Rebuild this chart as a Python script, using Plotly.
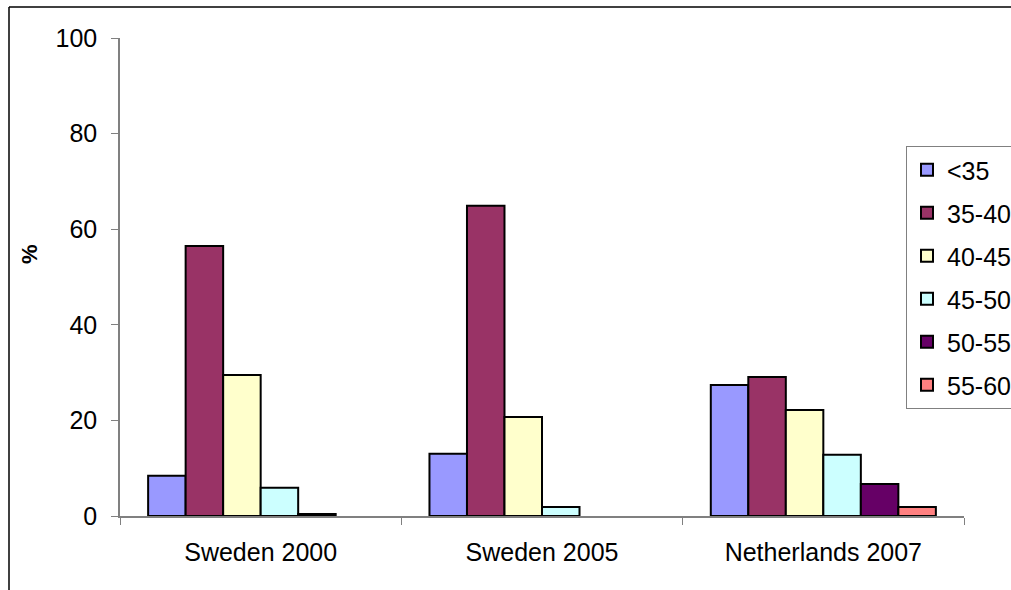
import plotly.graph_objects as go

# Share of respondents by age band, per survey (None = band not reported)
categories = ["Sweden 2000", "Sweden 2005", "Netherlands 2007"]
age_bands = ["<35", "35-40", "40-45", "45-50", "50-55", "55-60"]
band_lt35 = [8.4, 13.0, 27.4]
band_35_40 = [56.5, 64.9, 29.1]
band_40_45 = [29.5, 20.7, 22.2]
band_45_50 = [5.9, 1.9, 12.8]
band_50_55 = [0.4, None, 6.7]
band_55_60 = [None, None, 1.9]
y_ticks = [0, 20, 40, 60, 80, 100]

series = [band_lt35, band_35_40, band_40_45, band_45_50, band_50_55, band_55_60]
colors = ["#9999FF", "#993366", "#FFFFCC", "#CCFFFF", "#660066", "#FF8080"]

W, H = 1011, 590
L, R, T, B = 120, 47, 38, 74
pw, ph = W - L - R, H - T - B

def px_x(p):
    return (p - L) / pw

def px_y(p):
    return (H - B - p) / ph

font = dict(family="Liberation Sans, Arial, sans-serif", size=25, color="#000000")

fig = go.Figure()
for i, (name, vals) in enumerate(zip(age_bands, series)):
    fig.add_trace(go.Bar(
        x=categories, y=vals, name=name,
        legendgroup=name,
        marker=dict(color=colors[i], line=dict(color="#000000", width=2)),
    ))

fig.update_layout(
    width=W, height=H,
    margin=dict(l=L, r=R, t=T, b=B, autoexpand=False),
    paper_bgcolor="white", plot_bgcolor="white",
    barmode="group", bargap=0.2, bargroupgap=0,
    font=font,
    showlegend=True,
    legend=dict(
        x=px_x(906), y=px_y(146), xanchor="left", yanchor="top",
        bgcolor="white", bordercolor="#808080", borderwidth=1,
        font=dict(size=25), traceorder="grouped", tracegroupgap=7.5,
        itemwidth=30,
    ),
    xaxis=dict(
        showline=True, linecolor="#808080", linewidth=1.5,
        ticks="outside", ticklen=7, tickcolor="#808080", tickwidth=1,
        tickson="boundaries", showgrid=False,
        ticklabelstandoff=13,
    ),
    yaxis=dict(
        range=[0, 100], tickvals=y_ticks,
        showline=True, linecolor="#808080", linewidth=1.5,
        ticks="outside", ticklen=7, tickcolor="#808080", tickwidth=1,
        showgrid=False, zeroline=False,
        ticklabelstandoff=9,
    ),
    annotations=[dict(
        text="<b>%</b>", textangle=-90, showarrow=False,
        xref="paper", yref="paper", x=px_x(30), y=px_y(254),
        xanchor="center", yanchor="middle", font=dict(size=22),
    )],
    shapes=[
        dict(type="line", xref="paper", yref="paper",
             x0=px_x(9), x1=px_x(1100), y0=px_y(7), y1=px_y(7),
             line=dict(color="#000000", width=1.5)),
        dict(type="line", xref="paper", yref="paper",
             x0=px_x(9), x1=px_x(9), y0=px_y(7), y1=px_y(640),
             line=dict(color="#000000", width=1.5)),
    ],
)

fig.write_html("out.html")
